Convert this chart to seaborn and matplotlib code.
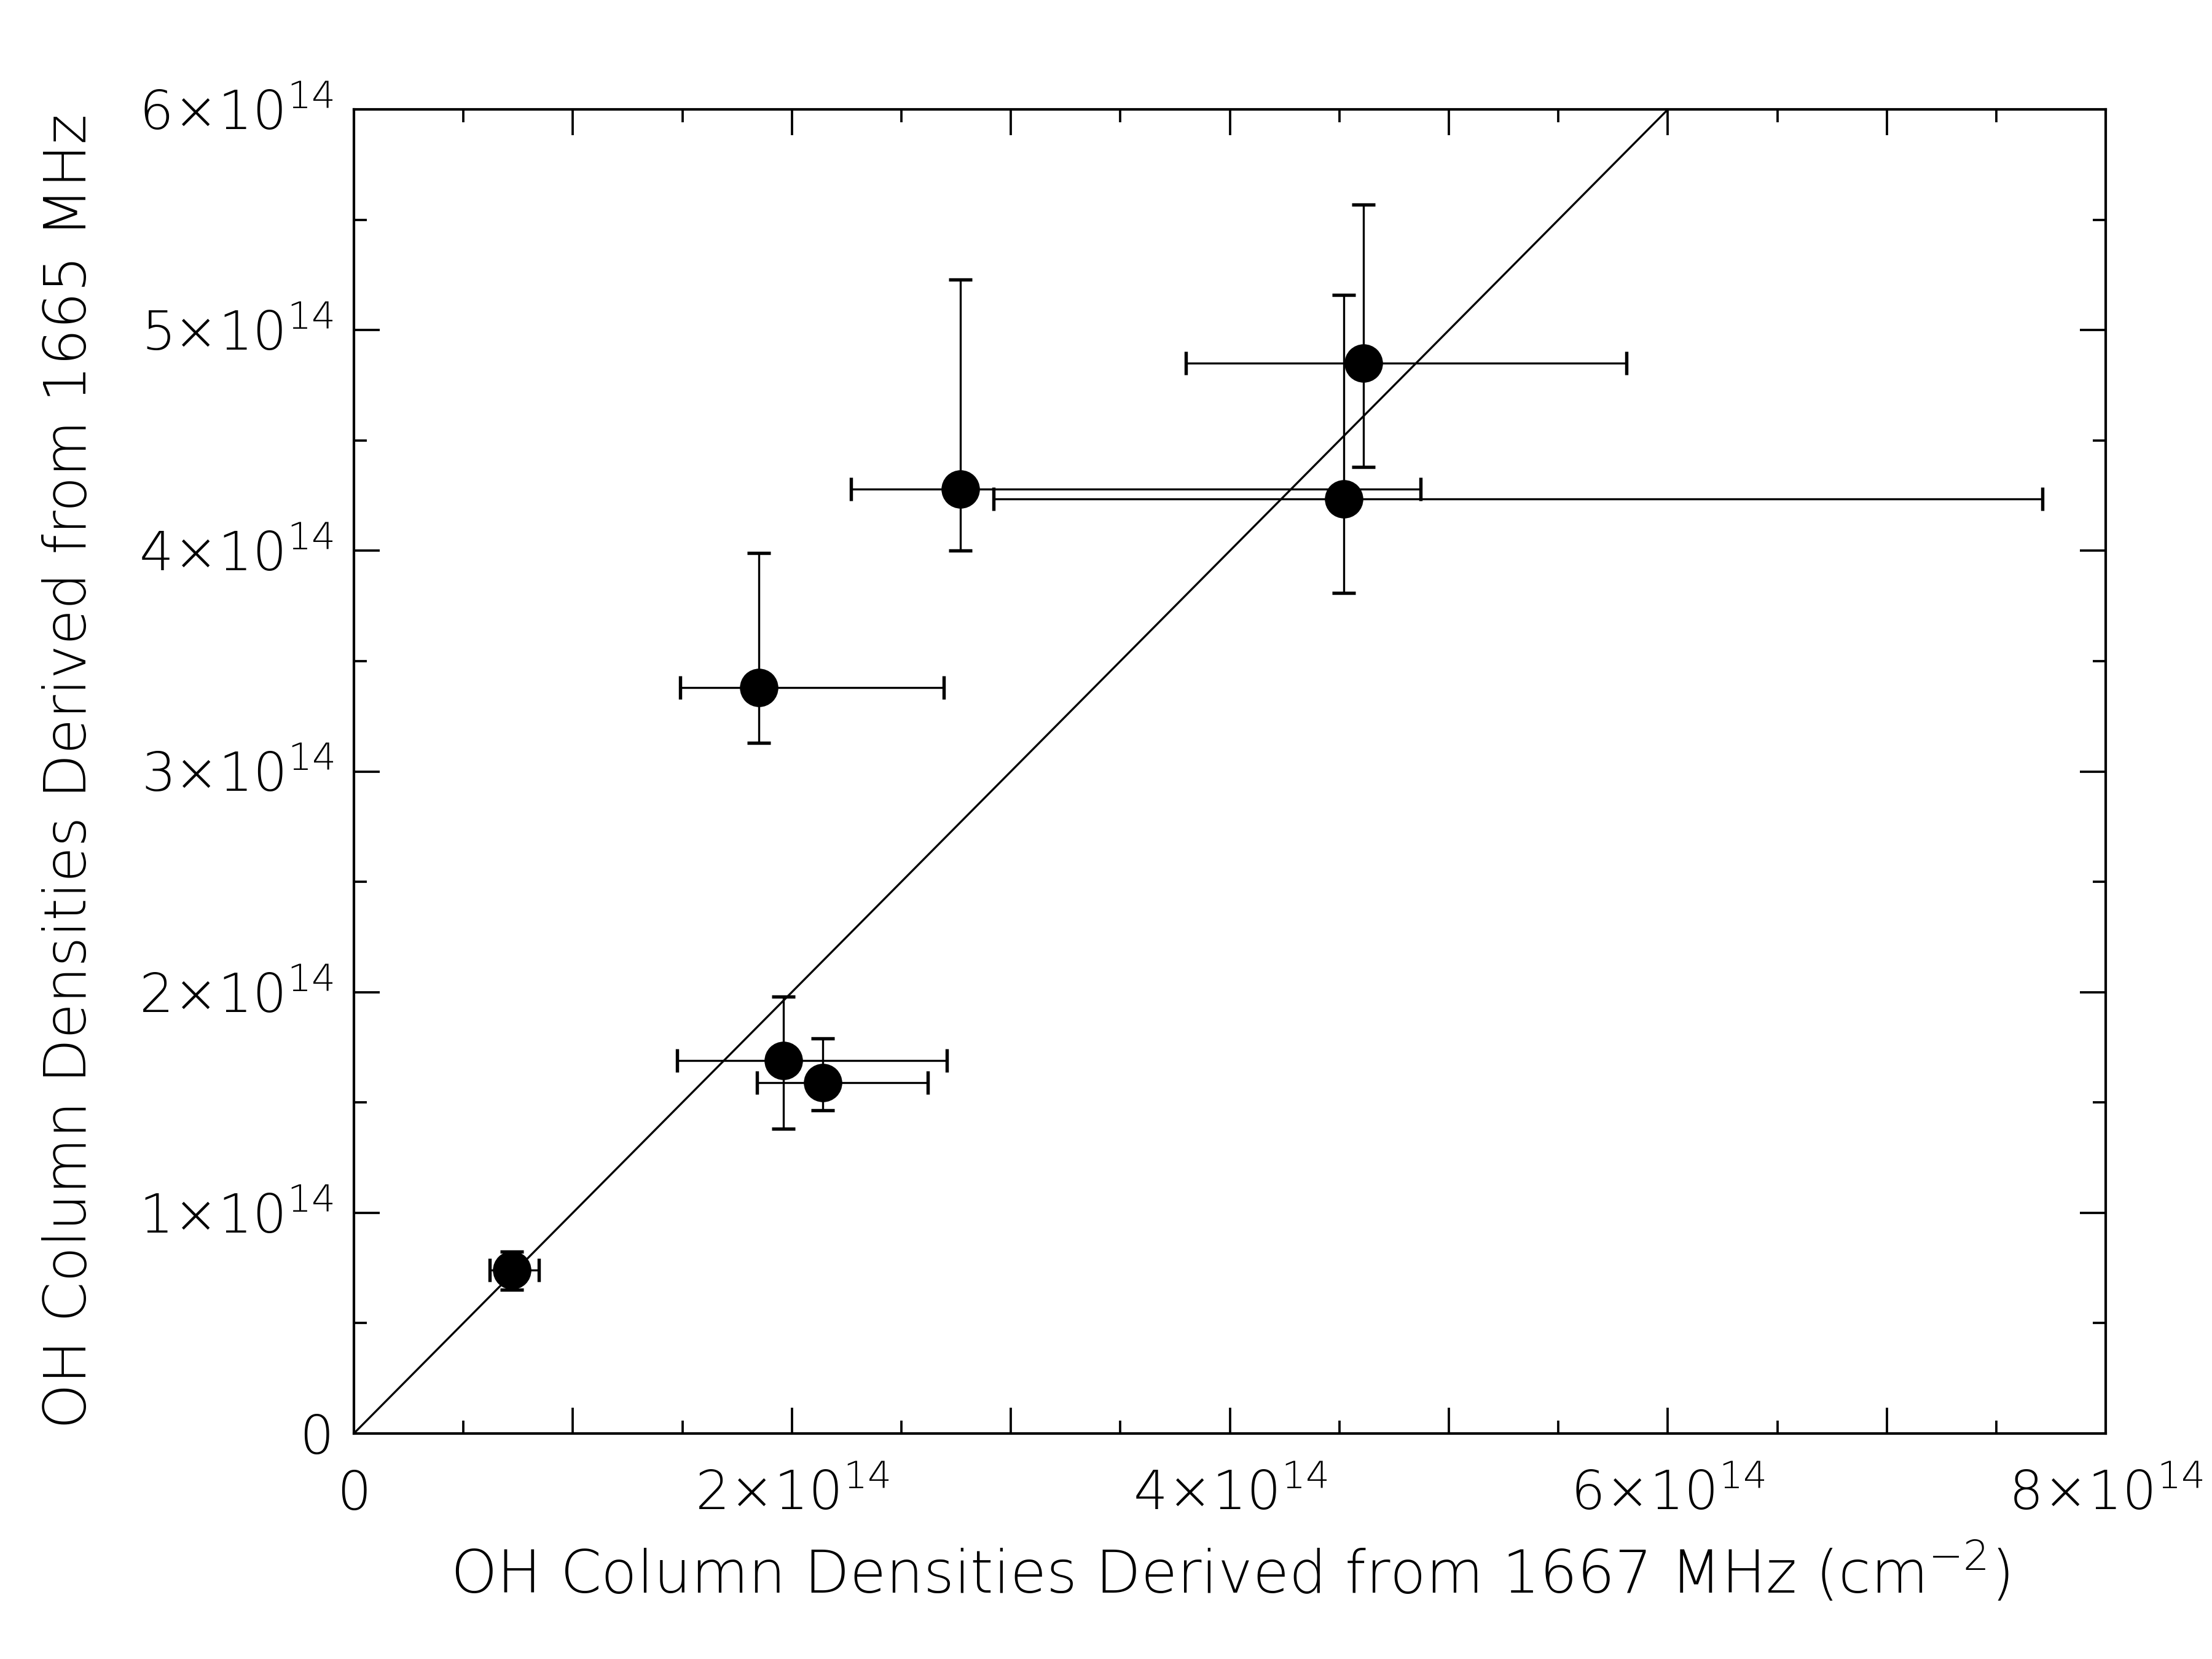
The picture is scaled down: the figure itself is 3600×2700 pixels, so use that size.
import numpy as np
import pandas as pd
import matplotlib
matplotlib.use("Agg")
import matplotlib.pyplot as plt
import seaborn as sns
from matplotlib.ticker import MultipleLocator, FuncFormatter

# Data in units of 1e14 cm^-2
x_1667 = [0.72, 1.96, 2.14, 1.85, 2.77, 4.52, 4.61]
y_1665 = [0.74, 1.69, 1.59, 3.38, 4.28, 4.235, 4.85]
x_low = [0.62, 1.476, 1.84, 1.49, 2.27, 2.92, 3.80]
x_high = [0.845, 2.708, 2.62, 2.695, 4.87, 7.71, 5.81]
y_low = [0.65, 1.38, 1.465, 3.13, 4.00, 3.81, 4.38]
y_high = [0.825, 1.98, 1.79, 3.99, 5.23, 5.16, 5.57]
line_x = [0.0, 6.0]
line_y = [0.0, 6.0]
UNIT = 1e14

sns.set_theme(style="white")
plt.rcParams["font.family"] = ["DejaVu Sans"]
plt.rcParams["font.weight"] = "light"
plt.rcParams["axes.labelweight"] = "light"
plt.rcParams["mathtext.default"] = "regular"
plt.rcParams["text.color"] = "black"
plt.rcParams["axes.labelcolor"] = "black"
plt.rcParams["xtick.color"] = "black"
plt.rcParams["ytick.color"] = "black"

x = np.array(x_1667) * UNIT
y = np.array(y_1665) * UNIT
xerr = [x - np.array(x_low) * UNIT, np.array(x_high) * UNIT - x]
yerr = [y - np.array(y_low) * UNIT, np.array(y_high) * UNIT - y]
df = pd.DataFrame({"x": x, "y": y})

fig = plt.figure(figsize=(12, 9), dpi=300)
ax = fig.add_axes([0.16, 0.136, 0.792, 0.798])

sns.lineplot(x=np.array(line_x) * UNIT, y=np.array(line_y) * UNIT, color="black",
             lw=0.8, ax=ax, zorder=2)
ax.errorbar(x, y, xerr=xerr, yerr=yerr, fmt="none", ecolor="black",
            elinewidth=0.8, capsize=4.5, capthick=1.3, zorder=3)
sns.scatterplot(data=df, x="x", y="y", s=225, color="black", edgecolor="black",
                linewidth=0, ax=ax, zorder=4)

ax.set_xlim(0, 8e14)
ax.set_ylim(0, 6e14)


def fmt_x(v, pos):
    n = int(round(v / UNIT))
    if n == 0:
        return "0"
    if n % 2 == 1:
        return ""
    return f"{n}\u00d710$^{{14}}$"


def fmt_y(v, pos):
    n = int(round(v / UNIT))
    if n == 0:
        return "0"
    return f"{n}\u00d710$^{{14}}$"


ax.xaxis.set_major_locator(MultipleLocator(1e14))
ax.xaxis.set_minor_locator(MultipleLocator(0.5e14))
ax.yaxis.set_major_locator(MultipleLocator(1e14))
ax.yaxis.set_minor_locator(MultipleLocator(0.5e14))
ax.xaxis.set_major_formatter(FuncFormatter(fmt_x))
ax.yaxis.set_major_formatter(FuncFormatter(fmt_y))

ax.tick_params(which="both", direction="in", top=True, right=True,
               bottom=True, left=True, color="black", width=0.9)
ax.tick_params(which="major", length=10, labelsize=21)
ax.tick_params(which="minor", length=5)
ax.tick_params(axis="x", which="major", pad=14)
ax.tick_params(axis="y", which="major", pad=8)

for s in ax.spines.values():
    s.set_color("black")
    s.set_linewidth(1.0)

ax.set_xlabel("OH Column Densities Derived from 1667 MHz (cm$^{-2}$)", fontsize=23,
              labelpad=8)
ax.set_ylabel("OH Column Densities Derived from 1665 MHz", fontsize=22.5, labelpad=16)

fig.savefig("out.png", dpi=300, facecolor="white")
